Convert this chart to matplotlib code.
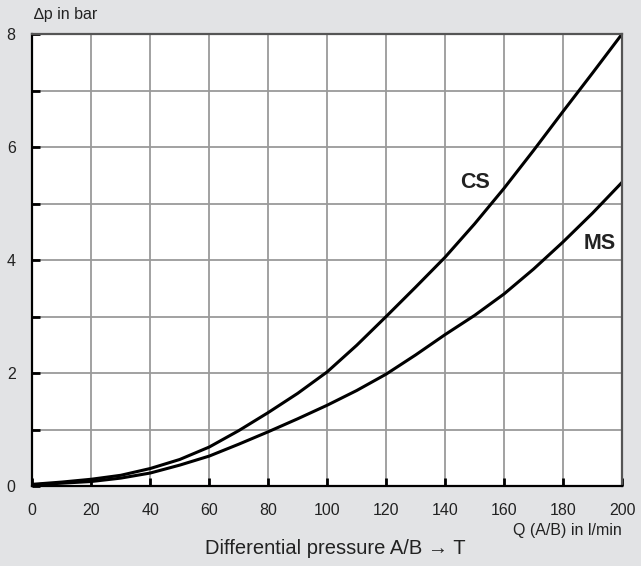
import numpy as np
import matplotlib.pyplot as plt

# flow rate Q (A/B) in l/min
q = [0, 10, 20, 30, 40, 50, 60, 70, 80, 90, 100, 110, 120, 130, 140, 150, 160, 170, 180, 190, 200]
# pressure drop in bar
dp_cs = [0.03, 0.07, 0.12, 0.19, 0.31, 0.47, 0.69, 0.98, 1.30, 1.64, 2.02, 2.49, 3.0, 3.52, 4.05, 4.64, 5.27, 5.94, 6.63, 7.31, 8.0]
dp_ms = [0.02, 0.05, 0.08, 0.14, 0.23, 0.37, 0.53, 0.74, 0.96, 1.19, 1.43, 1.69, 1.98, 2.32, 2.68, 3.02, 3.40, 3.84, 4.32, 4.83, 5.375]

xticks = [0, 20, 40, 60, 80, 100, 120, 140, 160, 180, 200]
yticks = [0, 1, 2, 3, 4, 5, 6, 7, 8]
ylabels = ['0', '', '2', '', '4', '', '6', '', '8']

plt.rcParams['font.family'] = ['Liberation Sans', 'DejaVu Sans']
bg = '#e2e3e5'

fig = plt.figure(figsize=(6.41, 5.66), dpi=100, facecolor=bg)
ax = fig.add_axes([0.0504, 0.1413, 0.9200, 0.7986])
ax.set_facecolor('white')

ax.plot(q, dp_cs, color='black', lw=2.2, solid_joinstyle='round')
ax.plot(q, dp_ms, color='black', lw=2.2, solid_joinstyle='round')

ax.set_xlim(0, 200)
ax.set_ylim(0, 8)
ax.set_xticks(xticks)
ax.set_xticklabels([str(v) for v in xticks])
ax.set_yticks(yticks)
ax.set_yticklabels(ylabels)
ax.grid(True, color='#9a9a9a', lw=1.3)
ax.set_axisbelow(True)
ax.tick_params(direction='in', length=6, width=2, color='black',
               labelsize=11.5, labelcolor='#222222', pad=12)

for s in ['left', 'bottom']:
    ax.spines[s].set_color('black')
    ax.spines[s].set_linewidth(1.6)
for s in ['top', 'right']:
    ax.spines[s].set_color('#555555')
    ax.spines[s].set_linewidth(1.6)

ax.text(150, 5.38, 'CS', fontsize=15.5, fontweight='bold', ha='center', va='center', color='#222222')
ax.text(192.4, 4.3, 'MS', fontsize=15.5, fontweight='bold', ha='center', va='center', color='#222222')

fig.text(34 / 641, 1 - 15 / 566, '\u2206p in bar', fontsize=11.5, ha='left', va='center', color='#222222')
fig.text(622 / 641, 1 - 531 / 566, 'Q (A/B) in l/min', fontsize=11.5, ha='right', va='center', color='#222222')
fig.text(335 / 641, 1 - 549 / 566, 'Differential pressure A/B \u2192 T', fontsize=14.5, ha='center',
         va='center', color='#222222')

fig.savefig('out.png', dpi=100, facecolor=bg)
